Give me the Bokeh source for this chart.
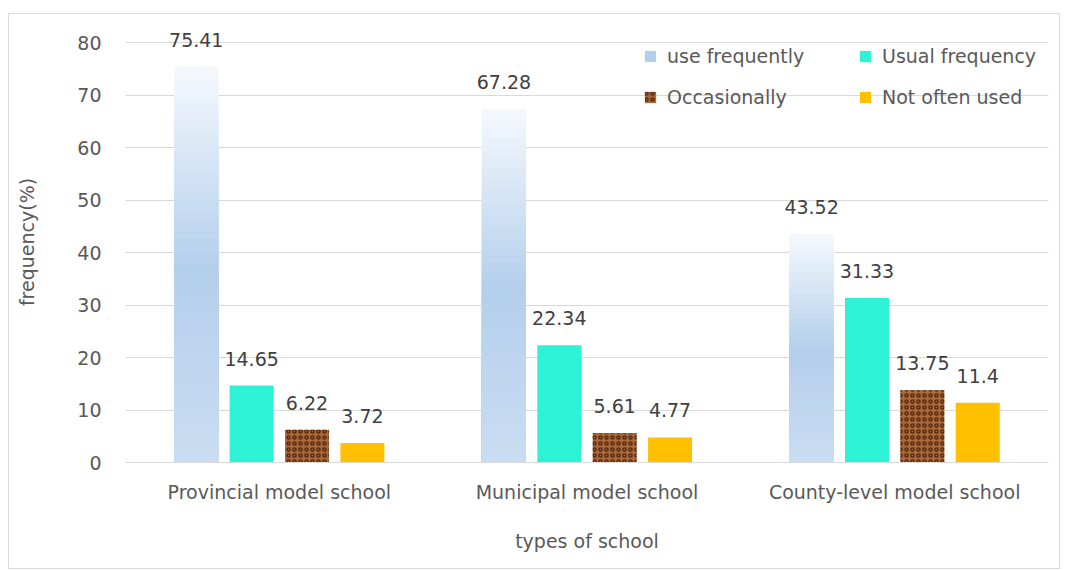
from bokeh.plotting import figure
from bokeh.models import (ColumnDataSource, FactorRange, Range1d, FixedTicker, Legend, LegendItem, LabelSet)
from bokeh.transform import dodge
from bokeh.core.properties import value
from bokeh.embed import file_html
from bokeh.resources import INLINE

schools = ["Provincial model school", "Municipal model school", "County-level model school"]
use_frequently = [75.41, 67.28, 43.52]
usual_frequency = [14.65, 22.34, 31.33]
occasionally = [6.22, 5.61, 13.75]
not_often_used = [3.72, 4.77, 11.4]
y_ticks = [0, 10, 20, 30, 40, 50, 60, 70, 80]

FONT = "DejaVu Sans"
FS = "19px"
# y range extended slightly above 80 so the top data label is not clipped
p = figure(x_range=FactorRange(*schools), y_range=Range1d(0, 84),
           width=1052, height=556, output_backend="svg", toolbar_location=None,
           min_border_left=116, min_border_right=13, min_border_top=7, min_border_bottom=108)
p.styles = {"margin-left": "8px", "margin-top": "13px", "border": "1px solid #d9d9d9"}
p.outline_line_color = None
p.background_fill_color = "white"
p.border_fill_color = "white"

p.xgrid.grid_line_color = None
p.ygrid.grid_line_color = "#d9d9d9"
p.ygrid.grid_line_width = 1
p.yaxis.ticker = FixedTicker(ticks=y_ticks)
p.yaxis.axis_line_color = None
p.yaxis.major_tick_line_color = None
p.yaxis.minor_tick_line_color = None
p.yaxis.major_label_text_font = FONT
p.yaxis.major_label_text_font_size = FS
p.yaxis.major_label_text_color = "#595959"
p.yaxis.major_label_standoff = 18
p.yaxis.axis_label = "frequency(%)"
p.yaxis.axis_label_text_font = FONT
p.yaxis.axis_label_text_font_size = FS
p.yaxis.axis_label_text_font_style = "normal"
p.yaxis.axis_label_text_color = "#595959"
p.yaxis.axis_label_standoff = 36

p.xaxis.axis_line_color = "#d9d9d9"
p.xaxis.major_tick_line_color = None
p.xaxis.minor_tick_line_color = None
p.xaxis.major_label_text_font = FONT
p.xaxis.major_label_text_font_size = FS
p.xaxis.major_label_text_color = "#595959"
p.xaxis.major_label_standoff = 12
p.xaxis.axis_label = "types of school"
p.xaxis.axis_label_text_font = FONT
p.xaxis.axis_label_text_font_size = FS
p.xaxis.axis_label_text_font_style = "normal"
p.xaxis.axis_label_text_color = "#595959"
p.xaxis.axis_label_standoff = 24

OFFS = [-0.27, -0.09, 0.09, 0.27]
W = 0.143

# gradient bars for "use frequently": nested bars, largest first
def lerp(a, b, t):
    return tuple(int(round(a[i] + (b[i] - a[i]) * t)) for i in range(3))

stops = [(0.0, (202, 221, 242)), (0.5, (180, 207, 236)), (1.0, (244, 248, 253))]
def grad(t):
    if t <= stops[1][0]:
        return lerp(stops[0][1], stops[1][1], t / stops[1][0])
    return lerp(stops[1][1], stops[2][1], (t - stops[1][0]) / (1 - stops[1][0]))

N = 60
gx, gtop, gcol = [], [], []
for k in range(N):
    t = 1 - k / N
    c = grad(t)
    for s, v in zip(schools, use_frequently):
        gx.append(s)
        gtop.append(v * t)
        gcol.append("#%02x%02x%02x" % c)
gsrc = ColumnDataSource(dict(x=gx, top=gtop, color=gcol))
p.vbar(x=dodge("x", OFFS[0], range=p.x_range), top="top", bottom=0, width=W,
       source=gsrc, fill_color="color", line_color=None)

src = ColumnDataSource(dict(x=schools, uf=use_frequently, us=usual_frequency,
                            oc=occasionally, no=not_often_used))
# legend-only swatch for the gradient series (zero-height bar)
r_legend_uf = p.vbar(x=schools[:1], top=[0], bottom=[0], width=0, fill_color="#b4cfec", line_color=None)
r_us = p.vbar(x=dodge("x", OFFS[1], range=p.x_range), top="us", width=W, source=src,
              fill_color="#2df2d6", line_color=None)
r_oc = p.vbar(x=dodge("x", OFFS[2], range=p.x_range), top="oc", width=W, source=src,
              fill_color="#a8683a", line_color=None,
              hatch_pattern="ring", hatch_color="#5c2c10", hatch_scale=6, hatch_weight=1.6)
r_no = p.vbar(x=dodge("x", OFFS[3], range=p.x_range), top="no", width=W, source=src,
              fill_color="#ffc000", line_color=None)

for col, off in zip(["uf", "us", "oc", "no"], OFFS):
    lsrc = ColumnDataSource(dict(x=schools, y=src.data[col], t=[str(v) for v in src.data[col]]))
    labels = LabelSet(x=dodge("x", off, range=p.x_range), y="y", text="t", source=lsrc,
                      text_align="center", text_baseline="middle", y_offset=27,
                      text_font=value(FONT), text_font_size=value(FS), text_color=value("#404040"))
    p.add_layout(labels)

legend = Legend(items=[
    LegendItem(label="use frequently", renderers=[r_legend_uf]),
    LegendItem(label="Occasionally", renderers=[r_oc]),
    LegendItem(label="Usual frequency", renderers=[r_us]),
    LegendItem(label="Not often used", renderers=[r_no]),
], location=(518, 354), ncols=2)
legend.background_fill_alpha = 0
legend.border_line_color = None
legend.padding = 0
legend.margin = 0
legend.spacing = 19
legend.glyph_width = 14
legend.glyph_height = 14
legend.label_standoff = 10
legend.label_width = 172
legend.label_height = 20
legend.label_text_font = FONT
legend.label_text_font_size = FS
legend.label_text_color = "#595959"
p.add_layout(legend, "center")

open("out.html", "w").write(file_html(p, INLINE))
